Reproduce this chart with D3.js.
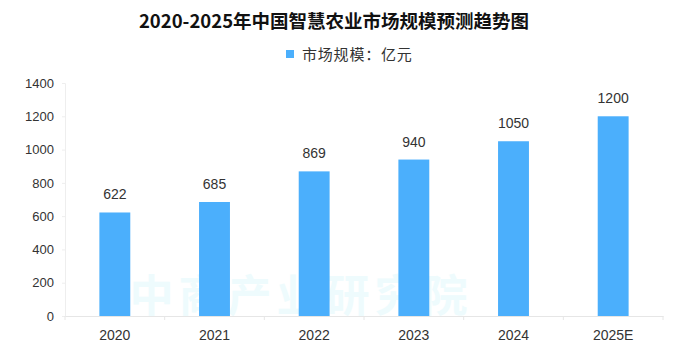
<!DOCTYPE html>
<html><head><meta charset="utf-8">
<script src="https://cdn.jsdelivr.net/npm/d3@7"></script>
<style>body{margin:0;background:#fff}svg{display:block}</style>
</head><body><svg id="c" width="686" height="347"></svg>
<script>
const categories = ["2020","2021","2022","2023","2024","2025E"];
const values = [622,685,869,940,1050,1200];
const yTicks = [0,200,400,600,800,1000,1200,1400];
const title = "2020-2025年中国智慧农业市场规模预测趋势图";
const legendLabel = "市场规模：亿元";

const W=686,H=347;
const m={l:65,r:23,t:83,b:31};
const svg=d3.select("#c");
const font="'Noto Sans CJK SC','DejaVu Sans',sans-serif";
const numFont="'Liberation Sans',Arial,sans-serif";
const barColor="#4BAFFC";

const x=d3.scaleBand().domain(categories).range([m.l,W-m.r]).paddingInner(0.69).paddingOuter(0.345);
const y=d3.scaleLinear().domain([0,1400]).range([H-m.b,m.t]);

// watermark
svg.append("text").attr("x",301).attr("y",312).attr("text-anchor","middle")
  .attr("font-family",font).attr("font-size",44).attr("font-weight","bold")
  .attr("fill","#eefbfd").attr("letter-spacing",5).text("中商产业研究院");

// y axis
const ya=svg.append("g").attr("transform",`translate(${m.l},0)`)
  .call(d3.axisLeft(y).tickValues(yTicks).tickFormat(d3.format("d")).tickSize(3).tickPadding(8));
ya.select(".domain").attr("stroke","#eeeeee");
ya.selectAll(".tick line").attr("stroke","#eeeeee");
ya.selectAll("text").attr("font-family",numFont).attr("font-size",13).attr("fill","#333");

// x axis
const xa=svg.append("g").attr("transform",`translate(0,${H-m.b})`)
  .call(d3.axisBottom(x).tickSize(0).tickPadding(14));
xa.select(".domain").attr("stroke","#e6e6e6");
xa.selectAll("text").attr("font-family",numFont).attr("font-size",14).attr("fill","#333");
// boundary ticks
const step=x.step();
const bounds=d3.range(categories.length+1).map(i=>x.range()[0]+i*step);
svg.append("g").selectAll("line").data(bounds).join("line")
  .attr("x1",d=>d).attr("x2",d=>d).attr("y1",H-m.b).attr("y2",H-m.b+4)
  .attr("stroke","#e6e6e6");

// bars
svg.append("g").selectAll("rect").data(values).join("rect")
  .attr("x",(d,i)=>x(categories[i])).attr("width",x.bandwidth())
  .attr("y",d=>y(d)).attr("height",d=>y(0)-y(d)).attr("fill",barColor);

// value labels
svg.append("g").selectAll("text").data(values).join("text")
  .attr("x",(d,i)=>x(categories[i])+x.bandwidth()/2).attr("y",d=>y(d)-13)
  .attr("text-anchor","middle").attr("font-family",numFont).attr("font-size",14).attr("fill","#333")
  .text(d=>d);

// title
svg.append("text").attr("x",334).attr("y",28).attr("text-anchor","middle")
  .attr("font-family",font).attr("font-size",18.5).attr("font-weight","bold").attr("fill","#111")
  .text(title);

// legend
svg.append("rect").attr("x",286).attr("y",50).attr("width",8).attr("height",8).attr("fill",barColor);
svg.append("text").attr("x",302).attr("y",60).attr("font-family",font).attr("font-size",15)
  .attr("letter-spacing",0.8).attr("fill","#333").text(legendLabel);
</script></body></html>
